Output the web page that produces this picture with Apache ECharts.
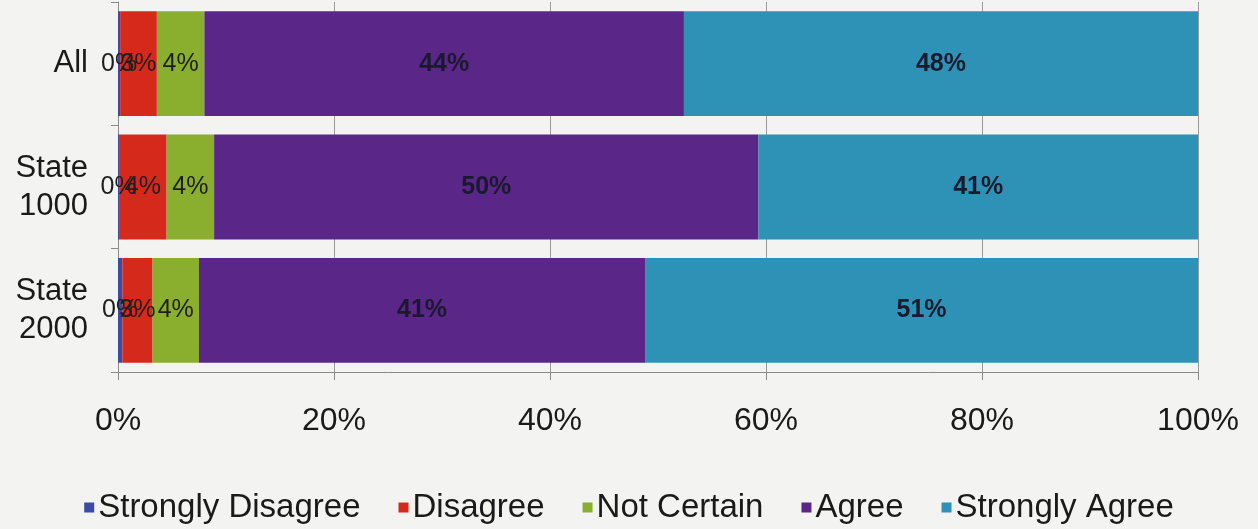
<!DOCTYPE html>
<html>
<head>
<meta charset="utf-8">
<script src="https://cdn.jsdelivr.net/npm/echarts@6/dist/echarts.min.js"></script>
<style>html,body{margin:0;padding:0;background:#f3f3f2;}#c{width:1258px;height:529px;}</style>
</head>
<body>
<div id="c"></div>
<script>
var categories = ['All', 'State\n1000', 'State\n2000'];
var seriesNames = ['Strongly Disagree', 'Disagree', 'Not Certain', 'Agree', 'Strongly Agree'];
var stronglyDisagree = [0.2, 0.1, 0.4];
var disagree = [3.4, 4.4, 2.8];
var notCertain = [4.4, 4.4, 4.3];
var agree = [44.4, 50.4, 41.3];
var stronglyAgree = [47.6, 40.7, 51.2];
var xTicks = [0, 20, 40, 60, 80, 100];
var colors = ['#3a4aa6', '#d5291b', '#8aae2e', '#5a2688', '#2e92b6'];

var seriesData = [stronglyDisagree, disagree, notCertain, agree, stronglyAgree];
var chart = echarts.init(document.getElementById('c'));
var font = 'Liberation Sans, Arial, sans-serif';
chart.setOption({
  backgroundColor: '#f3f3f2',
  animation: false,
  textStyle: {fontFamily: font},
  grid: {left: 118, right: 60, top: 2, bottom: 157, containLabel: false},
  legend: {
    bottom: 0, left: 'center',
    itemWidth: 10, itemHeight: 10, itemGap: 38,
    icon: 'rect',
    textStyle: {fontSize: 33, color: '#1a1a1a', fontFamily: font, padding: [0, 0, 0, -1]},
    data: seriesNames
  },
  xAxis: {
    type: 'value', min: 0, max: 100, interval: 20,
    axisLine: {show: true, lineStyle: {color: '#8a8a8a'}},
    axisTick: {show: true, length: 8, lineStyle: {color: '#8a8a8a'}},
    splitLine: {show: true, lineStyle: {color: '#9a9a9a', width: 1}},
    axisLabel: {
      margin: 33, fontSize: 32, color: '#1a1a1a', fontFamily: font,
      formatter: function (v) { return xTicks.indexOf(v) >= 0 ? v + '%' : ''; }
    }
  },
  yAxis: {
    type: 'category', inverse: true, data: categories,
    axisLine: {show: true, lineStyle: {color: '#8a8a8a'}},
    axisTick: {show: true, length: 7, lineStyle: {color: '#8a8a8a'}},
    axisLabel: {margin: 30, fontSize: 31, lineHeight: 38, color: '#1a1a1a', fontFamily: font, align: 'right'}
  },
  series: seriesNames.map(function (name, i) {
    var big = i >= 3;
    return {
      name: name, type: 'bar', stack: 'total', barCategoryGap: '15%',
      itemStyle: {color: colors[i]},
      label: {
        show: true, position: 'inside',
        fontSize: big ? 25 : 25, fontWeight: big ? 'bold' : 'normal',
        color: big ? '#1a1a2e' : '#1e1e1e', fontFamily: font,
        formatter: function (p) { return Math.round(p.value) + '%'; }
      },
      labelLayout: {hideOverlap: false},
      data: seriesData[i]
    };
  })
});
</script>
</body>
</html>
